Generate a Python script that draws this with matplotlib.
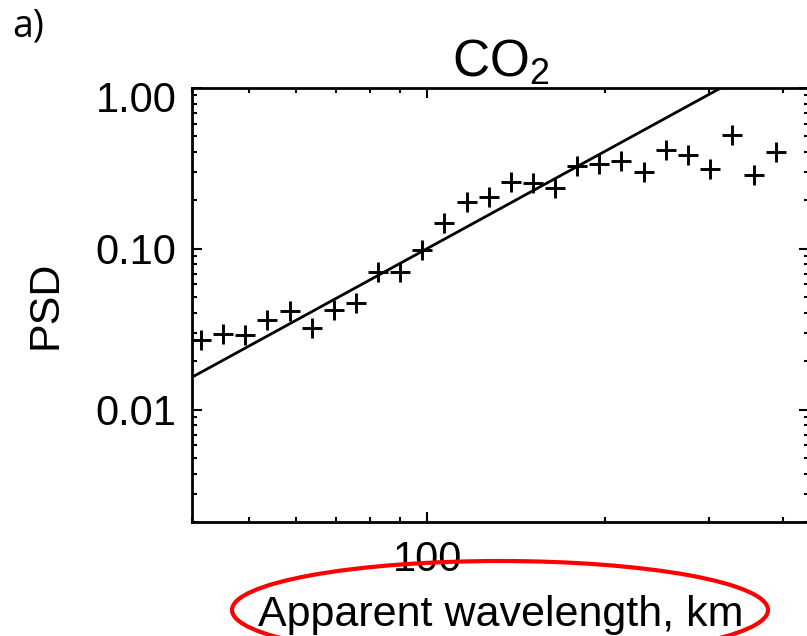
import matplotlib
matplotlib.use("Agg")
import matplotlib.pyplot as plt
import matplotlib.ticker as mticker
import matplotlib.transforms as mtransforms
from matplotlib.patches import Ellipse

# ---- data ----
wavelength_km = [41.5, 45.2, 49.2, 53.6, 58.6, 63.9, 69.6, 75.8, 82.6, 90.0,
                 98.1, 106.9, 116.9, 127.3, 138.7, 151.1, 164.7, 179.4, 195.4,
                 213.0, 232.9, 253.7, 276.5, 301.2, 328.2, 357.5, 389.6]
psd = [0.0272, 0.0296, 0.0292, 0.0362, 0.0412, 0.0323, 0.0418, 0.0462, 0.0720,
       0.0720, 0.0990, 0.145, 0.196, 0.210, 0.261, 0.257, 0.239, 0.328, 0.337,
       0.352, 0.301, 0.412, 0.384, 0.314, 0.511, 0.288, 0.400]
fit_x = [40.0, 314.0]
fit_y = [0.0159, 1.0]
y_ticks = [0.01, 0.1, 1.0]
y_ticklabels = ["0.01", "0.10", "1.00"]
x_ticks = [100]
x_ticklabels = ["100"]
title_text = "CO$_2$"
xlabel_text = "Apparent wavelength, km"
ylabel_text = "PSD"
panel_label = "a)"

plt.rcParams['font.family'] = ['Liberation Sans', 'DejaVu Sans']
plt.rcParams['mathtext.fontset'] = 'custom'
plt.rcParams['mathtext.rm'] = 'Liberation Sans'
plt.rcParams['mathtext.it'] = 'Liberation Sans'
plt.rcParams['mathtext.default'] = 'regular'

W, H = 807, 636
fig = plt.figure(figsize=(W / 100, H / 100), dpi=100)
L, R, T, B = 192, 809, 88, 522
ax = fig.add_axes([L / W, 1 - B / H, (R - L) / W, (B - T) / H])

ax.plot(wavelength_km, psd, linestyle='none', marker='+', markersize=15,
        markeredgewidth=2.1, color='black', clip_on=False)
ax.plot(fit_x, fit_y, color='black', linewidth=2.0)

ax.set_xscale('log')
ax.set_yscale('log')
ax.set_xlim(40.0, 443)
ax.set_ylim(0.002, 1.0)

ax.xaxis.set_major_locator(mticker.FixedLocator(x_ticks))
ax.xaxis.set_major_formatter(mticker.FixedFormatter(x_ticklabels))
ax.xaxis.set_minor_locator(mticker.LogLocator(base=10, subs=range(2, 10)))
ax.xaxis.set_minor_formatter(mticker.NullFormatter())
ax.yaxis.set_major_locator(mticker.FixedLocator(y_ticks))
ax.yaxis.set_major_formatter(mticker.FixedFormatter(y_ticklabels))
ax.yaxis.set_minor_locator(mticker.LogLocator(base=10, subs=range(2, 10), numticks=20))
ax.yaxis.set_minor_formatter(mticker.NullFormatter())

for s in ax.spines.values():
    s.set_linewidth(2.0)
ax.tick_params(which='both', direction='in', top=True, right=True, width=1.5,
               labelsize=30)
ax.tick_params(which='major', length=7)
ax.tick_params(which='minor', length=3.5)
ax.tick_params(axis='x', which='major', pad=13)
ax.tick_params(axis='y', which='major', pad=11)

ax.set_title(title_text, fontsize=37, pad=4)
ax.set_xlabel(xlabel_text, fontsize=31)
ax.xaxis.set_label_coords(0.5, (B - 626) / (B - T))
ax.xaxis.label.set_va('baseline')
ax.set_ylabel(ylabel_text, fontsize=31)
ax.yaxis.set_label_coords((46 - L) / (R - L), 0.5)
ax.yaxis.label.set_va('center')

fig.text(12 / W, 1 - 36 / H, panel_label, fontsize=27, family=['Open Sans', 'DejaVu Sans'],
         va='baseline', ha='left')

# shift the top y label down slightly like the reference
fig.canvas.draw()
for lab in ax.get_yticklabels():
    if lab.get_text() == "1.00":
        lab.set_transform(lab.get_transform() +
                          mtransforms.ScaledTranslation(0, -9 / 100, fig.dpi_scale_trans))

ell = Ellipse(((500) / W, 1 - 610 / H), 536 / W, 98 / H, transform=fig.transFigure,
              fill=False, edgecolor='#ff0000', linewidth=3.0, clip_on=False)
fig.add_artist(ell)

fig.savefig('out.png', dpi=100)
